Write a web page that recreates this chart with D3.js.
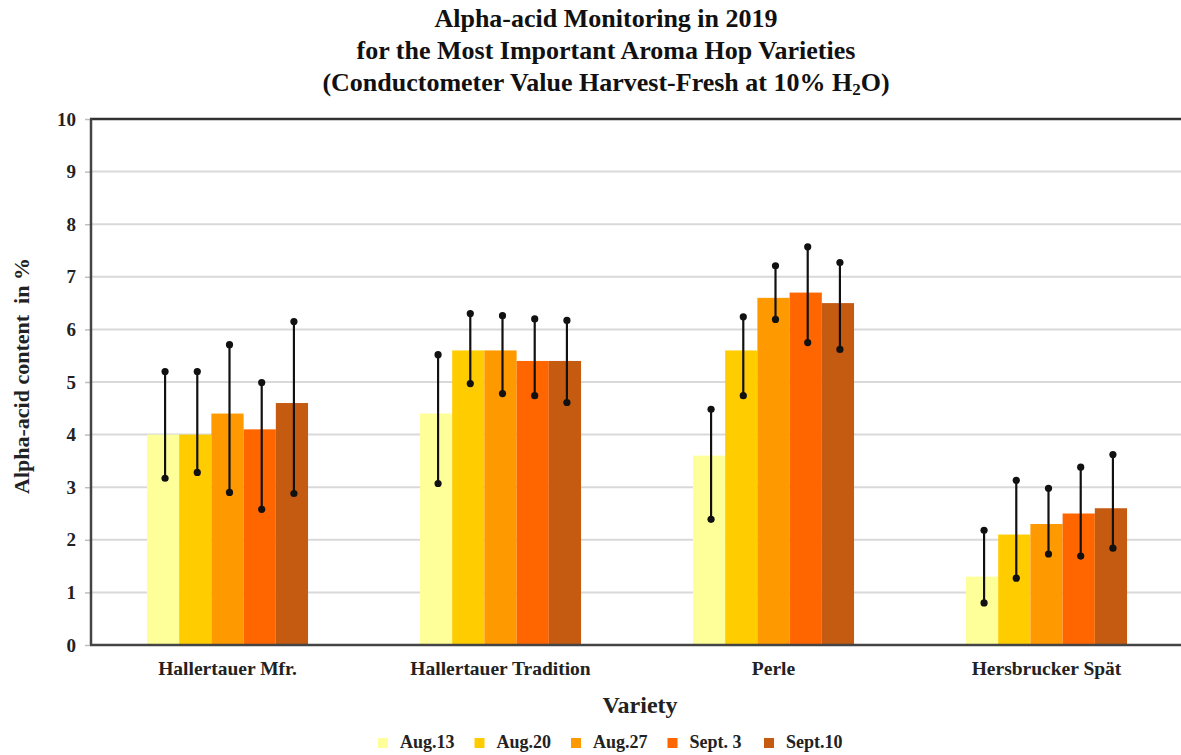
<!DOCTYPE html>
<html>
<head>
<meta charset="utf-8">
<script src="https://cdn.jsdelivr.net/npm/d3@7"></script>
<style>
  html, body { margin: 0; padding: 0; background: #fff; }
  svg { display: block; font-family: "Liberation Serif", "Times New Roman", serif; font-weight: bold; }
</style>
</head>
<body>
<svg id="chart" width="1181" height="755"></svg>
<script>
// Hop varieties and sampling dates
const varieties = ["Hallertauer Mfr.", "Hallertauer Tradition", "Perle", "Hersbrucker Spät"];
const dates = ["Aug.13", "Aug.20", "Aug.27", "Sept. 3", "Sept.10"];
const dateColors = ["#FFFF99", "#FFCC00", "#FF9900", "#FF6600", "#C55A11"];

// Mean alpha-acid content (%) per variety, one entry per sampling date
const meanHallMfr   = [4.0, 4.0, 4.4, 4.1, 4.6];
const meanHallTrad  = [4.4, 5.6, 5.6, 5.4, 5.4];
const meanPerle     = [3.6, 5.6, 6.6, 6.7, 6.5];
const meanHersSpaet = [1.3, 2.1, 2.3, 2.5, 2.6];

// Range of measured values (min / max)
const minHallMfr   = [3.17, 3.28, 2.9, 2.58, 2.88];
const maxHallMfr   = [5.2, 5.2, 5.71, 4.99, 6.15];
const minHallTrad  = [3.07, 4.97, 4.78, 4.74, 4.61];
const maxHallTrad  = [5.52, 6.3, 6.26, 6.2, 6.17];
const minPerle     = [2.39, 4.74, 6.19, 5.75, 5.62];
const maxPerle     = [4.48, 6.24, 7.21, 7.57, 7.27];
const minHersSpaet = [0.8, 1.27, 1.73, 1.69, 1.84];
const maxHersSpaet = [2.18, 3.13, 2.98, 3.38, 3.62];

const yTicks = [0, 1, 2, 3, 4, 5, 6, 7, 8, 9, 10];

const means = [meanHallMfr, meanHallTrad, meanPerle, meanHersSpaet];
const mins  = [minHallMfr, minHallTrad, minPerle, minHersSpaet];
const maxs  = [maxHallMfr, maxHallTrad, maxPerle, maxHersSpaet];

const rows = [];
varieties.forEach((v, i) => {
  dates.forEach((d, j) => {
    rows.push({ variety: v, date: d, value: means[i][j], lo: mins[i][j], hi: maxs[i][j], color: dateColors[j] });
  });
});

const svg = d3.select("#chart");
const plot = { left: 91, right: 1183, top: 119, bottom: 645 };

const x0 = d3.scaleBand().domain(varieties).range([plot.left, plot.right]).padding(0);
const bw = x0.bandwidth();
const x1 = d3.scaleBand().domain(dates).range([bw * 0.205, bw * 0.795]).padding(0);
const y = d3.scaleLinear().domain([0, 10]).range([plot.bottom, plot.top]);

// Title
const title = svg.append("text")
  .attr("x", 606).attr("text-anchor", "middle")
  .attr("font-size", 26).attr("fill", "#111");
title.append("tspan").attr("x", 606).attr("y", 27).text("Alpha-acid Monitoring in 2019");
title.append("tspan").attr("x", 606).attr("y", 59).text("for the Most Important Aroma Hop Varieties");
const t3 = title.append("tspan").attr("x", 606).attr("y", 91);
t3.append("tspan").text("(Conductometer Value Harvest-Fresh at 10% H");
t3.append("tspan").attr("font-size", 17).attr("dy", 4).text("2");
t3.append("tspan").attr("dy", -4).text("O)");

// Gridlines
svg.append("g")
  .selectAll("line")
  .data(yTicks.filter(t => t > 0 && t < 10))
  .join("line")
  .attr("x1", plot.left).attr("x2", plot.right)
  .attr("y1", d => y(d)).attr("y2", d => y(d))
  .attr("stroke", "#d9d9d9").attr("stroke-width", 2);

// Y axis
const yAxis = svg.append("g")
  .attr("transform", `translate(${plot.left},0)`)
  .call(d3.axisLeft(y).tickValues(yTicks).tickFormat(d3.format("d")).tickSize(6).tickPadding(9));
yAxis.select(".domain").remove();
yAxis.selectAll(".tick line").attr("stroke", "#bfbfbf").attr("stroke-width", 1.5);
yAxis.selectAll(".tick text")
  .attr("font-family", "Liberation Serif, serif").attr("font-weight", "bold")
  .attr("font-size", 19).attr("fill", "#222");

// Bars
svg.append("g")
  .selectAll("rect")
  .data(rows)
  .join("rect")
  .attr("x", d => x0(d.variety) + x1(d.date))
  .attr("width", x1.bandwidth())
  .attr("y", d => y(d.value))
  .attr("height", d => y(0) - y(d.value))
  .attr("fill", d => d.color);

// Min/max range markers
const err = svg.append("g");
const ex = d => x0(d.variety) + x1(d.date) + x1.bandwidth() / 2 + 2;
err.selectAll("line")
  .data(rows)
  .join("line")
  .attr("x1", ex).attr("x2", ex)
  .attr("y1", d => y(d.lo)).attr("y2", d => y(d.hi))
  .attr("stroke", "#111").attr("stroke-width", 2.2);
err.selectAll("circle.lo")
  .data(rows)
  .join("circle").attr("class", "lo")
  .attr("cx", ex).attr("cy", d => y(d.lo)).attr("r", 3.6).attr("fill", "#111");
err.selectAll("circle.hi")
  .data(rows)
  .join("circle").attr("class", "hi")
  .attr("cx", ex).attr("cy", d => y(d.hi)).attr("r", 3.6).attr("fill", "#111");

// Plot frame: top, left, bottom
svg.append("line").attr("x1", plot.left - 1).attr("x2", plot.right)
  .attr("y1", plot.top).attr("y2", plot.top).attr("stroke", "#333").attr("stroke-width", 2.5);
svg.append("line").attr("x1", plot.left).attr("x2", plot.left)
  .attr("y1", plot.top).attr("y2", plot.bottom).attr("stroke", "#444").attr("stroke-width", 2.5);
svg.append("line").attr("x1", plot.left - 1).attr("x2", plot.right)
  .attr("y1", plot.bottom).attr("y2", plot.bottom).attr("stroke", "#444").attr("stroke-width", 2.5);

// X category labels
svg.append("g")
  .selectAll("text")
  .data(varieties)
  .join("text")
  .attr("x", d => x0(d) + bw / 2)
  .attr("y", 675)
  .attr("text-anchor", "middle")
  .attr("font-size", 19.5).attr("fill", "#222")
  .text(d => d);

// Axis titles
svg.append("text")
  .attr("x", 640).attr("y", 713)
  .attr("text-anchor", "middle").attr("font-size", 24).attr("fill", "#222")
  .text("Variety");
svg.append("text")
  .attr("transform", "translate(29,376) rotate(-90)")
  .attr("text-anchor", "middle").attr("font-size", 22).attr("fill", "#222")
  .attr("xml:space", "preserve")
  .text("Alpha-acid content  in %");

// Legend
const legend = svg.append("g").attr("transform", "translate(378,738)");
const item = legend.selectAll("g")
  .data(dates)
  .join("g")
  .attr("transform", (d, i) => `translate(${i * 96.5},0)`);
item.append("rect")
  .attr("width", 10).attr("height", 10)
  .attr("fill", (d, i) => dateColors[i]);
item.append("text")
  .attr("x", 22).attr("y", 10)
  .attr("font-size", 18).attr("fill", "#222")
  .text(d => d);
</script>
</body>
</html>
